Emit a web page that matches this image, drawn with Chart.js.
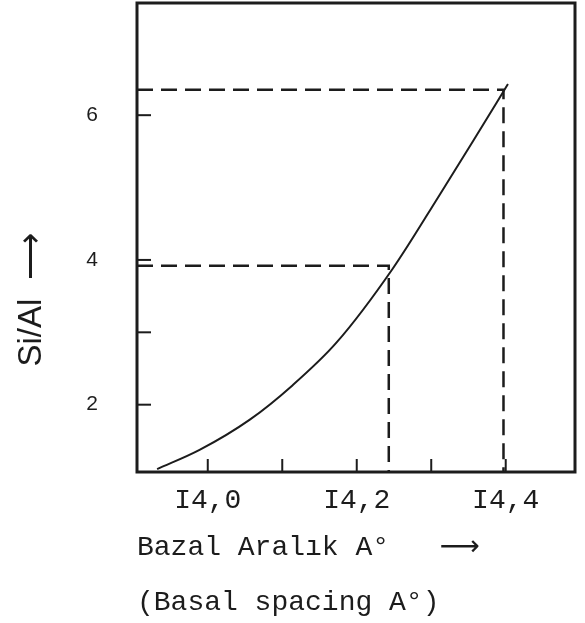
<!DOCTYPE html>
<html>
<head>
<meta charset="utf-8">
<script src="https://cdn.jsdelivr.net/npm/chart.js@4.4.1/dist/chart.umd.min.js"></script>
<style>
  html, body { margin: 0; padding: 0; background: #fff; }
  #wrap { width: 585px; height: 623px; }
</style>
</head>
<body>
<div id="wrap"><canvas id="chart"></canvas></div>
<script>
// Si/Al vs basal spacing
const xMin = 13.905, xMax = 14.493;
const yMin = 1.07, yMax = 7.55;

const curveX = [13.932, 13.989, 14.056, 14.114, 14.173, 14.248, 14.311, 14.356, 14.403];
const curveY = [1.11, 1.375, 1.79, 2.27, 2.86, 3.875, 4.895, 5.64, 6.43];

// dashed read-off lines
const guideLowX = [xMin, 14.243, 14.243];
const guideLowY = [3.92, 3.92, yMin];
const guideHighX = [xMin, 14.397, 14.397];
const guideHighY = [6.35, 6.35, yMin];

const xTickValues = [14.0, 14.1, 14.2, 14.3, 14.4];
const xTickLabels = ['I4,0', '', 'I4,2', '', 'I4,4'];
const yTickValues = [2, 3, 4, 6];
const yTickLabels = ['2', '', '4', '6'];

const yTitle = 'Si/Al  \u27F6';
const xTitle = ['Bazal Aralık A\u00B0   \u27F6', '(Basal spacing A\u00B0)'];

const ink = '#1c1c1c';

function pts(xs, ys) {
  return xs.map((x, i) => ({ x: x, y: ys[i] }));
}

// frame, inward tick marks and the rotated y title
const paperPlugin = {
  id: 'paper',
  afterDraw(chart) {
    const ctx = chart.ctx;
    const a = chart.chartArea;
    const xs = chart.scales.x, ys = chart.scales.y;
    ctx.save();
    ctx.strokeStyle = ink;
    ctx.lineWidth = 2;
    xs.ticks.forEach(t => {
      const px = xs.getPixelForValue(t.value);
      ctx.beginPath();
      ctx.moveTo(px, a.bottom);
      ctx.lineTo(px, a.bottom - 13);
      ctx.stroke();
    });
    ys.ticks.forEach(t => {
      const py = ys.getPixelForValue(t.value);
      ctx.beginPath();
      ctx.moveTo(a.left, py);
      ctx.lineTo(a.left + 14, py);
      ctx.stroke();
    });
    ctx.lineWidth = 3;
    ctx.strokeRect(a.left, a.top, a.right - a.left, a.bottom - a.top);

    ctx.translate(32, 300);
    ctx.rotate(-Math.PI / 2);
    ctx.fillStyle = ink;
    ctx.font = '33px "Liberation Sans"';
    ctx.textAlign = 'center';
    ctx.textBaseline = 'middle';
    ctx.fillText(yTitle, 0, 0);
    ctx.restore();
  }
};

const dashed = {
  borderColor: ink,
  borderWidth: 2.5,
  borderDash: [16, 8],
  pointRadius: 0,
  fill: false,
  tension: 0
};

new Chart(document.getElementById('chart'), {
  type: 'scatter',
  data: {
    datasets: [
      {
        label: 'Si/Al',
        data: pts(curveX, curveY),
        showLine: true,
        borderColor: ink,
        borderWidth: 2,
        pointRadius: 0,
        cubicInterpolationMode: 'monotone'
      },
      Object.assign({ label: 'low', data: pts(guideLowX, guideLowY), showLine: true }, dashed),
      Object.assign({ label: 'high', data: pts(guideHighX, guideHighY), showLine: true }, dashed)
    ]
  },
  options: {
    responsive: true,
    maintainAspectRatio: false,
    animation: false,
    layout: { padding: { top: 3, right: 10, left: 0, bottom: 0 } },
    plugins: {
      legend: { display: false },
      tooltip: { enabled: false }
    },
    scales: {
      x: {
        type: 'linear',
        min: xMin,
        max: xMax,
        afterBuildTicks: s => { s.ticks = xTickValues.map(v => ({ value: v })); },
        afterFit: s => { s.height = 151; s.paddingLeft = 0; s.paddingRight = 0; },
        grid: { display: false, drawTicks: false },
        border: { display: false },
        ticks: {
          autoSkip: false,
          maxRotation: 0,
          padding: 12,
          color: ink,
          font: { family: '"Liberation Mono", monospace', size: 28 },
          callback: (v, i) => xTickLabels[i]
        },
        title: {
          display: true,
          text: xTitle,
          align: 'start',
          color: ink,
          font: { family: '"Liberation Mono", "DejaVu Sans"', size: 28, lineHeight: 1.96 },
          padding: { top: 0, bottom: -7 }
        }
      },
      y: {
        type: 'linear',
        min: yMin,
        max: yMax,
        afterBuildTicks: s => { s.ticks = yTickValues.map(v => ({ value: v })); },
        afterFit: s => { s.width = 137; s.paddingTop = 0; s.paddingBottom = 0; },
        grid: { display: false, drawTicks: false },
        border: { display: false },
        ticks: {
          autoSkip: false,
          padding: 39,
          color: ink,
          font: { family: '"Liberation Sans", sans-serif', size: 21 },
          callback: (v, i) => yTickLabels[i]
        }
      }
    }
  },
  plugins: [paperPlugin]
});
</script>
</body>
</html>
